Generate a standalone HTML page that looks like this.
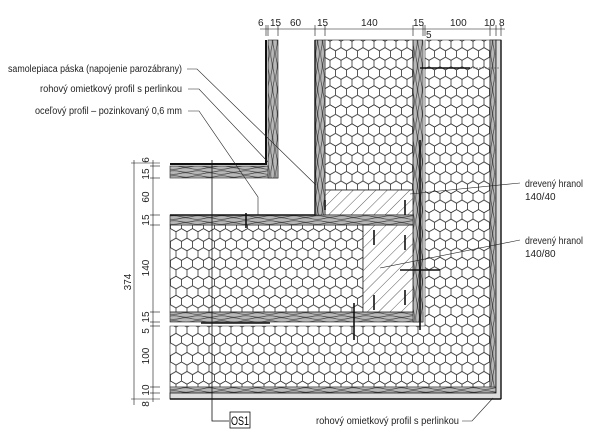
<!DOCTYPE html>
<html><head><meta charset="utf-8"><style>
html,body{margin:0;padding:0;background:#fff;}
svg{display:block;font-family:"Liberation Sans",sans-serif;}
</style></head><body>
<svg width="600" height="437" viewBox="0 0 600 437" xmlns="http://www.w3.org/2000/svg">
<defs>
<pattern id="hex" width="11" height="19.05" patternUnits="userSpaceOnUse">
<path d="M5.5 0L11 3.18L11 9.53L5.5 12.7L0 9.53L0 3.18Z M5.5 12.7L5.5 19.05" fill="none" stroke="#222" stroke-width="0.75"/>
</pattern>
<pattern id="woodH" width="24" height="5" patternUnits="userSpaceOnUse">
<rect width="24" height="5" fill="#b8b8b8"/>
<path d="M0 1.5 Q6 0 12 1.5 T24 1.5 M0 3.8 Q6 5 12 3.5 T24 3.8" fill="none" stroke="#444" stroke-width="0.7"/>
</pattern>
<pattern id="woodV" width="5" height="24" patternUnits="userSpaceOnUse">
<rect width="5" height="24" fill="#b8b8b8"/>
<path d="M1.5 0 Q0 6 1.5 12 T1.5 24 M3.8 0 Q5 6 3.5 12 T3.8 24" fill="none" stroke="#444" stroke-width="0.7"/>
</pattern>
<pattern id="hatch" width="8" height="8" patternUnits="userSpaceOnUse" patternTransform="rotate(45)">
<rect width="8" height="8" fill="#fff"/>
<line x1="0" y1="0" x2="0" y2="8" stroke="#333" stroke-width="0.8"/>
</pattern>
</defs>

<path d="M425 40H490V387H170V326H425Z" fill="url(#hex)" stroke="#222" stroke-width="0.6"/>
<path d="M490 40H496V393H170V387H490Z" fill="url(#woodH)" stroke="#222" stroke-width="0.6"/>
<rect x="490" y="40" width="6" height="347" fill="url(#woodV)" stroke="#222" stroke-width="0.6"/>
<path d="M496 40H501V399H170V393H496Z" fill="#ddd" stroke="#111" stroke-width="0.8"/>
<line x1="501" y1="40" x2="501" y2="399" stroke="#111" stroke-width="1.4"/>
<line x1="170" y1="399" x2="501" y2="399" stroke="#111" stroke-width="1.4"/>
<rect x="170" y="312" width="253" height="10" fill="url(#woodH)" stroke="#222" stroke-width="0.6"/>
<rect x="413" y="40" width="10" height="282" fill="url(#woodV)" stroke="#222" stroke-width="0.6"/>
<rect x="325" y="40" width="88" height="150" fill="url(#hex)" stroke="#222" stroke-width="0.6"/>
<rect x="170" y="225" width="193" height="87" fill="url(#hex)" stroke="#222" stroke-width="0.6"/>
<rect x="325" y="190" width="88" height="25" fill="url(#hatch)" stroke="#222" stroke-width="0.8"/>
<rect x="363" y="225" width="50" height="87" fill="url(#hatch)" stroke="#222" stroke-width="0.8"/>
<rect x="170" y="215" width="243" height="10" fill="url(#woodH)" stroke="#222" stroke-width="0.6"/>
<rect x="315" y="40" width="10" height="175" fill="url(#woodV)" stroke="#222" stroke-width="0.6"/>
<path d="M315 40V215H170" fill="none" stroke="#111" stroke-width="1.4"/>
<rect x="170" y="166" width="108" height="12" fill="url(#woodH)" stroke="#222" stroke-width="0.6"/>
<rect x="268" y="40" width="10" height="138" fill="url(#woodV)" stroke="#222" stroke-width="0.6"/>
<path d="M266 40V164H170" fill="none" stroke="#111" stroke-width="2"/>
<g stroke="#111" stroke-width="1.6">
<line x1="420" y1="68" x2="470" y2="68"/><line x1="420" y1="140" x2="420" y2="330"/>
<line x1="400" y1="270" x2="440" y2="270"/><line x1="201" y1="323" x2="270" y2="323"/>
<line x1="354" y1="303" x2="354" y2="340"/><line x1="246" y1="213" x2="246" y2="228"/>
<line x1="405" y1="200" x2="405" y2="215"/><line x1="405" y1="235" x2="405" y2="250"/>
<line x1="405" y1="290" x2="405" y2="305"/><line x1="374" y1="230" x2="374" y2="245"/>
<line x1="374" y1="295" x2="374" y2="310"/><line x1="325" y1="200" x2="325" y2="210"/>
</g>
<line x1="470" y1="68" x2="500" y2="68" stroke="#333" stroke-width="0.6" stroke-dasharray="2 1"/>
<path d="M212 160V421H229" fill="none" stroke="#111" stroke-width="0.8"/>
<rect x="230" y="412" width="20" height="16" fill="#fff" stroke="#111" stroke-width="0.8"/>
<text x="231" y="425" font-size="12" textLength="18" lengthAdjust="spacingAndGlyphs">OS1</text>

<g stroke="#111" stroke-width="0.6" fill="none">
<line x1="260" y1="29" x2="505" y2="29"/>
<g><line x1="266" y1="25" x2="266" y2="36"/><line x1="268" y1="25" x2="268" y2="36"/><line x1="278" y1="25" x2="278" y2="36"/><line x1="315" y1="25" x2="315" y2="36"/><line x1="325" y1="25" x2="325" y2="36"/><line x1="413" y1="25" x2="413" y2="36"/><line x1="423" y1="25" x2="423" y2="36"/><line x1="425" y1="25" x2="425" y2="36"/><line x1="490" y1="25" x2="490" y2="36"/><line x1="496" y1="25" x2="496" y2="36"/><line x1="501" y1="25" x2="501" y2="36"/></g>
<line x1="134" y1="160" x2="134" y2="405"/><line x1="153" y1="160" x2="153" y2="402"/>
<g><line x1="131" y1="163" x2="160" y2="163"/><line x1="150" y1="166" x2="160" y2="166"/><line x1="150" y1="178" x2="160" y2="178"/><line x1="150" y1="215" x2="160" y2="215"/><line x1="150" y1="225" x2="160" y2="225"/><line x1="150" y1="312" x2="160" y2="312"/><line x1="150" y1="322" x2="160" y2="322"/><line x1="150" y1="326" x2="160" y2="326"/><line x1="150" y1="387" x2="160" y2="387"/><line x1="150" y1="393" x2="160" y2="393"/><line x1="131" y1="399" x2="160" y2="399"/></g>
</g>
<g font-size="10" fill="#222">
<text x="258" y="26">6</text><text x="270" y="26">15</text><text x="290" y="26">60</text><text x="317" y="26">15</text><text x="361" y="26">140</text><text x="413" y="26">15</text><text x="426" y="38">5</text><text x="450" y="26">100</text><text x="484" y="26">10</text><text x="499" y="26">8</text>
</g>
<g font-size="10" fill="#222" text-anchor="middle">
<text transform="translate(149,160) rotate(-90)">6</text>
<text transform="translate(149,174) rotate(-90)">15</text>
<text transform="translate(149,197) rotate(-90)">60</text>
<text transform="translate(149,220) rotate(-90)">15</text>
<text transform="translate(149,268) rotate(-90)">140</text>
<text transform="translate(149,317) rotate(-90)">15</text>
<text transform="translate(149,331) rotate(-90)">5</text>
<text transform="translate(149,356) rotate(-90)">100</text>
<text transform="translate(149,390) rotate(-90)">10</text>
<text transform="translate(149,404) rotate(-90)">8</text>
<text transform="translate(131,282) rotate(-90)">374</text>
</g>

<g font-size="10" fill="#222">
<text x="8" y="72" textLength="174" lengthAdjust="spacingAndGlyphs">samolepiaca páska (napojenie parozábrany)</text>
<text x="40" y="92" textLength="142" lengthAdjust="spacingAndGlyphs">rohový omietkový profil s perlinkou</text>
<text x="35" y="114" textLength="147" lengthAdjust="spacingAndGlyphs">oceľový profil – pozinkovaný 0,6 mm</text>
<text x="525" y="187" textLength="58" lengthAdjust="spacingAndGlyphs">drevený hranol</text><text x="525" y="200">140/40</text>
<text x="525" y="244" textLength="58" lengthAdjust="spacingAndGlyphs">drevený hranol</text><text x="525" y="257">140/80</text>
<text x="316" y="424" textLength="143" lengthAdjust="spacingAndGlyphs">rohový omietkový profil s perlinkou</text>
</g>
<g stroke="#222" stroke-width="0.6" fill="none">
<path d="M187 69H197L316 185"/>
<path d="M188 89H199L268 162"/>
<path d="M188 111H199L258 197V215"/>
<path d="M520 183L410 194"/>
<path d="M520 240L380 268"/>
<path d="M462 421H472L493 398"/>
</g>
</svg>
</body></html>
